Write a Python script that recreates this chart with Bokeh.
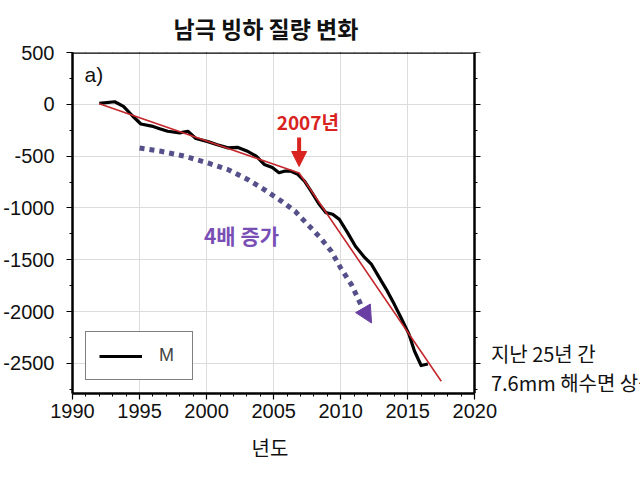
from bokeh.plotting import figure
from bokeh.models import (Range1d, SingleIntervalTicker, LinearAxis, Label, Arrow,
                          NormalHead, Legend, LegendItem, NumeralTickFormatter,
                          BoxAnnotation, Title)
from bokeh.embed import file_html
from bokeh.resources import INLINE

# ---- data ----
years = [1992.0, 1993.15, 1993.8, 1994.5, 1995.1, 1995.9, 1996.5, 1997.1, 1998.0, 1998.6,
         1999.2, 2000.1, 2000.8, 2001.6, 2002.3, 2003.0, 2003.7, 2004.3, 2004.9, 2005.4,
         2005.8, 2006.3, 2006.8, 2007.3, 2007.8, 2008.4, 2008.9, 2009.4, 2009.9, 2010.5,
         2011.1, 2011.8, 2012.3, 2012.8, 2013.4, 2014.0, 2014.5, 2015.1, 2015.5, 2016.0,
         2016.5]
mass = [10, 25, -20, -115, -190, -210, -235, -260, -275, -260,
        -330, -360, -390, -420, -415, -450, -500, -580, -610, -660,
        -645, -645, -675, -740, -840, -965, -1045, -1060, -1110, -1235,
        -1370, -1480, -1545, -1655, -1785, -1930, -2060, -2220, -2380, -2520,
        -2505]
trend_years = [1992.0, 2006.9, 2017.5]
trend_mass = [5, -663, -2672]
curve_years = [1995.0, 1996.6, 1998.4, 2000.1, 2001.6, 2003.1, 2004.3, 2005.6, 2006.6,
               2007.55, 2008.5, 2009.3, 2010.0, 2010.8, 2011.5]
curve_mass = [-421, -453, -502, -566, -630, -727, -823, -936, -1032,
              -1161, -1290, -1418, -1579, -1739, -1932]

TITLE = "남극 빙하 질량 변화"
XLABEL = "년도"
LEGEND_LABEL = "M"
NOTE_2007 = "2007년"
NOTE_4X = "4배 증가"
SIDE_1 = "지난 25년 간"
SIDE_2 = "7.6mm 해수면 상승"

X_START, X_END = 1990, 2020
Y_START, Y_END = -2790, 500

KR = "Noto Sans CJK KR"
LAT = "Liberation Sans"
RED = "#d8231f"
TREND = "#c4282c"
PURPLE = "#6a3fa3"
DOTS = "#56508a"

# the frame runs to the right edge of the canvas so that the side note can sit in it;
# the visible box is closed at X_END by an axis at a fixed location
LEFT, WIDTH = 71, 640
x_scale = (474 - LEFT) / (X_END - X_START)
x_canvas_end = X_START + (WIDTH - LEFT) / x_scale

p = figure(width=WIDTH, height=480, output_backend="svg", toolbar_location=None,
           x_range=Range1d(X_START, x_canvas_end), y_range=Range1d(Y_START, Y_END),
           min_border_left=LEFT, min_border_right=0, min_border_top=52,
           min_border_bottom=87, background_fill_color="white",
           border_fill_color="white")
p.outline_line_color = None
p.title.text = TITLE
p.title.text_font = KR
p.title.text_font_style = "bold"
p.title.text_font_size = "23px"
p.title.align = "left"
p.title.offset = 101
p.title.standoff = 16
p.title.text_color = "#111111"

xt = SingleIntervalTicker(interval=5, num_minor_ticks=5)
yt = SingleIntervalTicker(interval=500, num_minor_ticks=2)
p.xaxis.ticker = xt
p.yaxis.ticker = yt
p.yaxis.formatter = NumeralTickFormatter(format="0")
p.xaxis.formatter = NumeralTickFormatter(format="0")
p.xaxis.bounds = (X_START, X_END)
p.xgrid.ticker = xt
p.ygrid.ticker = yt
p.xgrid.bounds = (X_START, X_END)
p.xgrid.grid_line_color = "#dcdcdc"
p.ygrid.grid_line_color = "#dcdcdc"

for ax in [p.xaxis[0], p.yaxis[0]]:
    ax.axis_line_width = 2.5
    ax.major_tick_in = 0
    ax.major_tick_out = 6
    ax.minor_tick_in = 0
    ax.minor_tick_out = 3
    ax.major_tick_line_width = 1.2
    ax.major_label_text_font = LAT
    ax.major_label_text_font_size = "20px"
    ax.major_label_text_color = "#111111"
p.yaxis.major_label_standoff = 12
p.xaxis.major_label_standoff = 4

# x-axis title, centred under the visible box
p.add_layout(Title(text=XLABEL, text_font=KR, text_font_style="normal",
                   text_font_size="20px", text_color="#111111", align="left",
                   offset=179, standoff=20), "below")

# mask the grid to the right of the box
p.add_layout(BoxAnnotation(left=X_END, fill_color="white", fill_alpha=1,
                           line_color=None, level="underlay"))

x_blank = {v: "" for v in range(1985, 2036, 5)}
y_blank = {v: "" for v in range(-3000, 1001, 500)}
top_ax = LinearAxis(ticker=xt, bounds=(X_START, X_END), fixed_location=Y_END,
                    axis_line_width=2.5, major_tick_in=0, major_tick_out=6,
                    minor_tick_in=0, minor_tick_out=3,
                    major_label_overrides=x_blank, major_label_standoff=0)
p.add_layout(top_ax, "above")
right_ax = LinearAxis(ticker=yt, fixed_location=X_END, axis_line_width=2.5,
                      major_tick_in=0, major_tick_out=6, minor_tick_in=0, minor_tick_out=3,
                      major_label_overrides=y_blank, major_label_standoff=0)
p.add_layout(right_ax, "right")

# data lines
r = p.line(years, mass, line_color="black", line_width=3.2, line_join="round")
p.line(trend_years, trend_mass, line_color=TREND, line_width=1.6)

# purple dotted arrow
p.line(curve_years, curve_mass, line_color=DOTS, line_width=5, line_dash="5 5")
p.add_layout(Arrow(end=NormalHead(size=17, fill_color=PURPLE, line_color=PURPLE),
                   x_start=curve_years[-1], y_start=curve_mass[-1],
                   x_end=2012.3, y_end=-2110, line_alpha=0))

# 2007 arrow
p.add_layout(Arrow(end=NormalHead(size=15, fill_color=RED, line_color=RED),
                   x_start=2006.9, y_start=-320, x_end=2006.9, y_end=-600,
                   line_color=RED, line_width=4))

# text annotations
p.add_layout(Label(x=1991.6, y=290, text="a)", text_font=LAT, text_font_size="21px",
                   text_align="center", text_baseline="middle", text_color="#111111"))
p.add_layout(Label(x=2007.55, y=-165, text=NOTE_2007, text_font=KR, text_font_style="bold",
                   text_font_size="19px", text_align="center", text_baseline="middle",
                   text_color=RED))
p.add_layout(Label(x=2002.6, y=-1257, text=NOTE_4X, text_font=KR, text_font_style="bold",
                   text_font_size="21px", text_align="center", text_baseline="middle",
                   text_color="#7a4fb5"))
p.add_layout(Label(x=2021.2, y=-2402, text=SIDE_1, text_font=KR, text_font_size="20px",
                   text_align="left", text_baseline="middle", text_color="#111111"))
p.add_layout(Label(x=2021.2, y=-2688, text=SIDE_2, text_font=KR, text_font_size="20px",
                   text_align="left", text_baseline="middle", text_color="#111111"))

# legend
legend = Legend(items=[LegendItem(label=LEGEND_LABEL, renderers=[r])], location=(13, 13),
                border_line_color="black", border_line_width=1.5, padding=13, margin=0,
                glyph_width=43, glyph_height=12, label_height=12, label_standoff=17,
                label_text_font=LAT, label_text_font_size="18px", background_fill_alpha=1)
p.add_layout(legend)

open("out.html", "w").write(file_html(p, INLINE))
